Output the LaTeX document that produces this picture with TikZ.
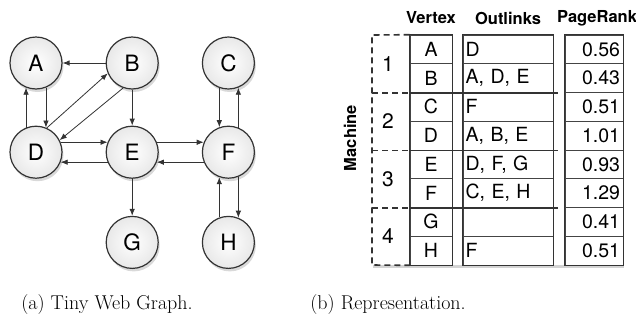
\documentclass[tikz,border=0pt]{standalone}
\usepackage{fontspec}
\newfontfamily\helv{TeX Gyre Heros}
\usepackage{tikz}
\usetikzlibrary{arrows.meta,positioning,shadows}
\definecolor{ink}{HTML}{333333}
\definecolor{rulegray}{HTML}{444444}

\begin{document}
\begin{tikzpicture}[
    x=1pt, y=-1pt,
    page/.style={circle, draw=ink, line width=1.2pt, minimum size=52pt, inner sep=0pt,
                 shade, inner color=white, outer color=black!9,
                 font=\helv\fontsize{22.5}{22.5}\selectfont,
                 drop shadow={shadow xshift=1.5pt, shadow yshift=-3pt, opacity=0.3}},
    link/.style={-{Latex[length=7pt,width=5.5pt]}, line width=0.8pt, draw=ink},
    cell/.style={draw=rulegray, line width=0.6pt, minimum height=28.75pt, inner ysep=0pt,
                 font=\helv\fontsize{19.5}{19.5}\selectfont},
    vcell/.style={cell, minimum width=42pt, inner xsep=0pt},
    ocell/.style={cell, text width=85pt, inner xsep=2.5pt, align=left},
    pcell/.style={cell, text width=52pt, inner xsep=3pt, align=right},
    head/.style={font=\helv\bfseries\fontsize{16.5}{16.5}\selectfont},
    mnum/.style={font=\helv\fontsize{21}{21}\selectfont},
    frame/.style={draw=ink, line width=1.4pt},
    mdash/.style={draw=ink, line width=1.6pt, dash pattern=on 6pt off 4pt},
    caption/.style={font=\fontsize{20}{22}\selectfont}
]
  \useasboundingbox (0,0) rectangle (636,327);

  \node[page] (a) at (36,63) {A};
  \node[page, right=43pt of a] (b) {B};
  \node[page, right=43pt of b] (c) {C};
  \node[page, below=36pt of a] (d) {D};
  \node[page, below=36pt of b] (e) {E};
  \node[page, below=36pt of c] (f) {F};
  \node[page, below=37pt of e] (g) {G};
  \node[page, below=37pt of f] (h) {H};

  \draw[link] (b) -- (a);
  \draw[link] (d.112) -- (a.-112);
  \draw[link] (a.-68) -- (d.68);
  \draw[link] (d.66) -- (b.-157);
  \draw[link] (b.-110) -- (d.27);
  \draw[link] (b) -- (e);
  \draw[link] (d.22) -- (e.158);
  \draw[link] (e.-158) -- (d.-22);
  \draw[link] (e.22) -- (f.158);
  \draw[link] (f.-158) -- (e.-22);
  \draw[link] (e) -- (g);
  \draw[link] (c.-110) -- (f.110);
  \draw[link] (f.68) -- (c.-68);
  \draw[link] (h.110) -- (f.-110);
  \draw[link] (f.-68) -- (h.68);

  \fill[white, drop shadow={shadow xshift=1pt, shadow yshift=-3pt, opacity=0.35}]
    (372,35) rectangle (623,265);

  \node[head] (hv) at (431,18) {Vertex};
  \node[head] (ho) at (508,18) {Outlinks};
  \node[head] (hp) at (597,18) {PageRank};

  \foreach \v/\o/\p [count=\i] in {A/D/0.56, {B/A, D, E/0.43}, C/F/0.51,
      {D/A, B, E/1.01}, {E/D, F, G/0.93}, {F/C, E, H/1.29}, G//0.41, H/F/0.51} {
    \node[vcell] (v\i) at (431,{20.625+28.75*\i}) {\v};
    \node[ocell] (o\i) at (508,{20.625+28.75*\i}) {\o};
    \node[pcell] (p\i) at (594,{20.625+28.75*\i}) {\p};
  }

  \draw[frame] (v1.north west) rectangle (v8.south east);
  \draw[frame] (o1.north west) rectangle (o8.south east);
  \draw[frame] (p1.north west) rectangle (p8.south east);

  \coordinate (mtop) at (372,35);
  \coordinate (mbot) at (372,265);
  \draw[mdash] (v1.north west) -- (mtop) -- (mbot) -- (v8.south west);
  \foreach \m in {1,2,3} {
    \pgfmathtruncatemacro\r{2*\m}
    \draw[mdash] (mtop |- v\r.south) -- (v\r.south west);
    \draw[frame] (v\r.south west) -- ([xshift=5pt]o\r.south east);
  }
  \foreach \m in {1,...,4}
    \node[mnum] (m\m) at (388,{35+57.5*\m-28.75}) {\m};
  \node[head, rotate=90] (machine) at (350,138) {Machine};

  \node[caption] (capa) at (107,305) {(a) Tiny Web Graph.};
  \node[caption] (capb) at (388,305) {(b) Representation.};
\end{tikzpicture}
\end{document}
